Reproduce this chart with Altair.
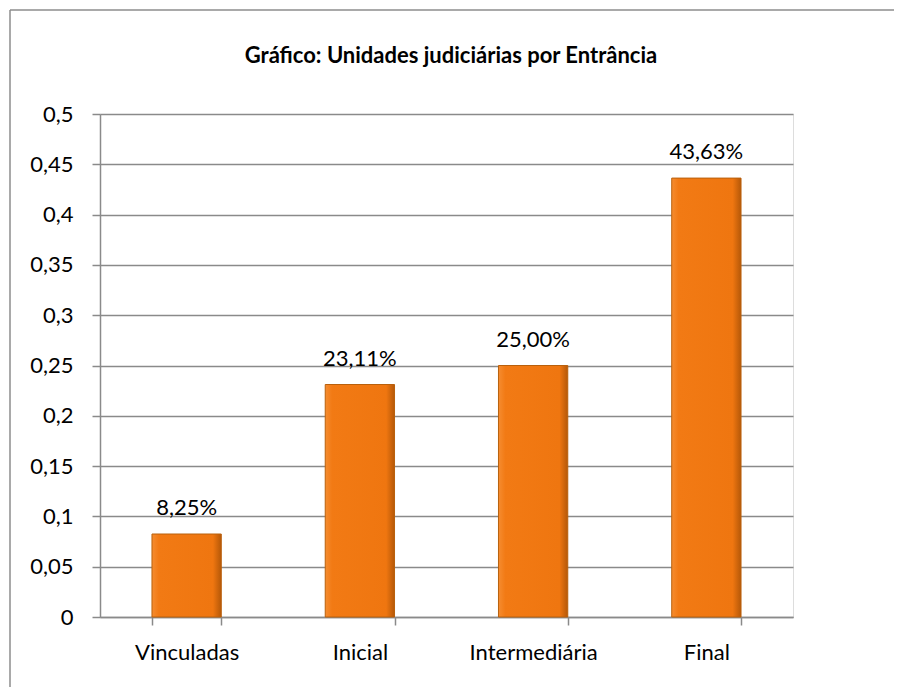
import altair as alt
import pandas as pd

categories = ["Vinculadas", "Inicial", "Intermediária", "Final"]
values = [0.0825, 0.2311, 0.2500, 0.4363]
value_labels = ["8,25%", "23,11%", "25,00%", "43,63%"]
y_ticks = [0, 0.05, 0.1, 0.15, 0.2, 0.25, 0.3, 0.35, 0.4, 0.45, 0.5]
title_text = "Gráfico: Unidades judiciárias por Entrância"

df = pd.DataFrame({"cat": categories, "val": values, "lab": value_labels})

FONT = "Lato"
FS = 22
GRID = "#8a8a8a"

x_enc = alt.X(
    "cat:N",
    sort=categories,
    scale=alt.Scale(paddingInner=0.6, paddingOuter=0.3),
    axis=alt.Axis(
        title=None, labelAngle=0, tickBand="extent", grid=False,
        domainColor=GRID, domainWidth=1.5, tickColor=GRID, tickWidth=1.5,
        tickSize=8, labelPadding=17, labelFontSize=FS, labelFont=FONT,
        labelColor="#000000",
    ),
)
y_enc = alt.Y(
    "val:Q",
    scale=alt.Scale(domain=[0, 0.5], nice=False),
    axis=alt.Axis(
        title=None, values=y_ticks,
        labelExpr="replace(toString(datum.value), '.', ',')",
        grid=True, gridColor=GRID, gridWidth=1.5,
        domainColor=GRID, domainWidth=1.5, tickColor=GRID, tickWidth=1.5,
        tickSize=8, labelPadding=19, labelFontSize=FS, labelFont=FONT,
        labelColor="#000000",
    ),
)

grad = alt.Gradient(
    gradient="linear", x1=0, x2=1, y1=0, y2=0,
    stops=[
        alt.GradientStop(offset=0, color="#F58C30"),
        alt.GradientStop(offset=0.1, color="#F27A14"),
        alt.GradientStop(offset=0.88, color="#EF7610"),
        alt.GradientStop(offset=1, color="#B55808"),
    ],
)

base = alt.Chart(df)
bars = base.mark_bar(color=grad, stroke="#B9600C", strokeWidth=1).encode(x=x_enc, y=y_enc)
text = base.mark_text(baseline="alphabetic", dy=-19, fontSize=FS, font=FONT, color="#000000").encode(
    x=alt.X("cat:N", sort=categories), y="val:Q", text="lab:N"
)

one = pd.DataFrame({"t": [title_text]})
title = alt.Chart(one).mark_text(font=FONT, fontSize=22, fontWeight="bold", color="#000000",
                                 baseline="alphabetic", align="center").encode(
    x=alt.value(351), y=alt.value(-51), text="t:N"
)
frame_left = alt.Chart(one).mark_rule(color="#8c8c8c", strokeWidth=1.5).encode(
    x=alt.value(-90), y=alt.value(-104), y2=alt.value(700)
)
frame_top = alt.Chart(one).mark_rule(color="#8c8c8c", strokeWidth=1.5).encode(
    x=alt.value(-90), x2=alt.value(900), y=alt.value(-104)
)

chart = alt.layer(bars, text, title, frame_left, frame_top).properties(
    width=693, height=503,
    padding={"left": 92, "top": 106, "right": 101, "bottom": 70},
    autosize=alt.AutoSizeParams(type="none"),
).configure_view(stroke=None).configure(background="white")

chart.save("out.html", embed_options={"renderer": "svg", "actions": False})
